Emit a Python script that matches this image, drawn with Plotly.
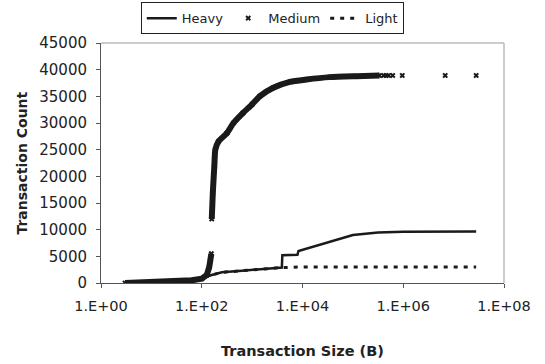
import plotly.graph_objects as go

# ---- data ----
heavy_x = [3, 10, 32, 63, 100, 158, 251, 631, 1585, 3890, 3980, 7940, 8320, 15850, 39800, 1.0e5, 3.16e5, 1.0e6, 2.8e7]
heavy_y = [0, 100, 250, 500, 900, 1500, 2000, 2300, 2600, 2900, 5200, 5300, 6000, 6800, 8000, 9000, 9450, 9600, 9650]

medium_x = [3, 6, 10, 20, 40, 63, 100, 126, 141, 155, 158, 166, 178, 186, 214, 316, 427, 661,
            1000, 1413, 2630, 5623, 12000, 34700, 117000, 339000,
            407000, 457000, 513000, 617000, 955000, 6.8e6, 2.8e7]
medium_y = [0, 50, 100, 200, 350, 500, 800, 1500, 3000, 5500, 12000, 17000, 22000, 25000, 26500, 28100, 30000, 31900,
            33500, 35000, 36600, 37700, 38150, 38600, 38780, 38900,
            38900, 38900, 38900, 38900, 38900, 38900, 38900]
medium_dense_end = 26      # points after this index are isolated markers
medium_gap_after = 10      # visible break in the band after this index

light_x = [3, 10, 32, 63, 100, 158, 251, 631, 1585, 3890, 10000, 31600, 55000, 1.0e5, 1.0e6, 2.8e7]
light_y = [0, 100, 250, 500, 900, 1500, 2000, 2300, 2600, 2900, 3000, 3000, 3000, 3000, 3000, 3000]

x_tickvals = [1, 1e2, 1e4, 1e6, 1e8]
x_ticktext = ["1.E+00", "1.E+02", "1.E+04", "1.E+06", "1.E+08"]
y_tickvals = [0, 5000, 10000, 15000, 20000, 25000, 30000, 35000, 40000, 45000]

x_title = "Transaction Size (B)"
y_title = "Transaction Count"

INK = "#1a1a1a"
TXT = "#222222"
FONT = "DejaVu Sans"

fig = go.Figure()

# Medium dense band (drawn as thick stroke, no legend)
fig.add_trace(go.Scatter(x=medium_x[:medium_gap_after], y=medium_y[:medium_gap_after], mode="lines",
                         line=dict(color=INK, width=6), showlegend=False, hoverinfo="skip"))
fig.add_trace(go.Scatter(x=medium_x[medium_gap_after:medium_dense_end], y=medium_y[medium_gap_after:medium_dense_end],
                         mode="lines", line=dict(color=INK, width=6, shape="spline", smoothing=0.6),
                         showlegend=False, hoverinfo="skip"))

fig.add_trace(go.Scatter(x=heavy_x, y=heavy_y, mode="lines", name="Heavy",
                         line=dict(color=INK, width=2.5)))
fig.add_trace(go.Scatter(x=medium_x, y=medium_y, mode="markers", name="Medium",
                         marker=dict(symbol="x", size=5, color=INK, line=dict(width=0))))
fig.add_trace(go.Scatter(x=light_x, y=light_y, mode="lines", name="Light",
                         line=dict(color=INK, width=3, dash="4px,6px")))

axis_line = "#555555"
fig.update_layout(
    width=545, height=364,
    margin=dict(l=101, r=41, t=43, b=81, autoexpand=False),
    paper_bgcolor="white", plot_bgcolor="white",
    font=dict(family=FONT, size=14, color=TXT),
    showlegend=True,
    legend=dict(orientation="h", x=0.425, xanchor="center", y=1.17, yanchor="top",
                bordercolor=TXT, borderwidth=1, bgcolor="white",
                font=dict(family=FONT, size=13, color=TXT),
                itemwidth=30, tracegroupgap=0),
    xaxis=dict(type="log", range=[0, 8], tickvals=x_tickvals, ticktext=x_ticktext,
               showgrid=False, zeroline=False, showline=True, linecolor=axis_line, linewidth=1,
               ticks="outside", ticklen=4, tickcolor=axis_line, tickfont=dict(size=14.5),
               ticklabelstandoff=6),
    yaxis=dict(range=[0, 45000], tickvals=y_tickvals, tickformat="d",
               showgrid=False, zeroline=False, showline=True, linecolor=axis_line, linewidth=1,
               ticks="outside", ticklen=4, tickcolor=axis_line, tickfont=dict(size=15),
               ticklabelstandoff=6),
    annotations=[
        dict(text="<b>" + x_title + "</b>", xref="paper", yref="paper", x=0.5, y=-0.283,
             xanchor="center", yanchor="middle", showarrow=False, font=dict(family=FONT, size=14.5, color=TXT)),
        dict(text="<b>" + y_title + "</b>", xref="paper", yref="paper", x=-0.197, y=0.5,
             xanchor="center", yanchor="middle", textangle=-90, showarrow=False,
             font=dict(family=FONT, size=14, color=TXT)),
    ],
)

# light grey top/right frame of the plot area
fig.add_shape(type="line", xref="paper", yref="paper", x0=0, x1=1, y0=1, y1=1, line=dict(color="#bbbbbb", width=1.5))
fig.add_shape(type="line", xref="paper", yref="paper", x0=1, x1=1, y0=0, y1=1, line=dict(color="#bbbbbb", width=1.5))

fig.write_html("out.html", config={"displayModeBar": False},
               post_script="document.body.style.margin='0';")
